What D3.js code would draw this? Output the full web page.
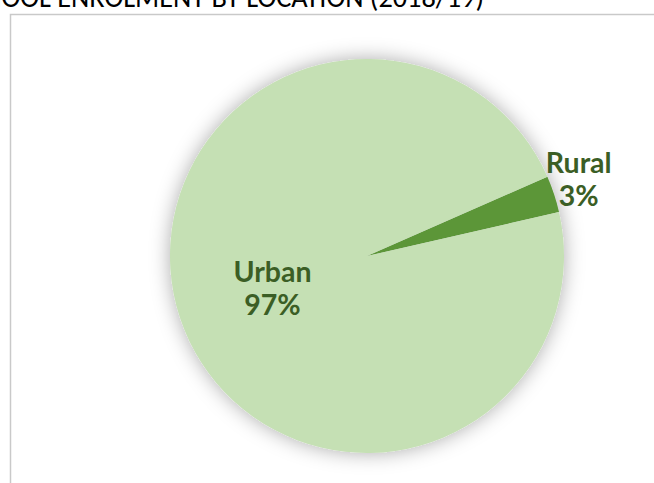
<!DOCTYPE html>
<html>
<head>
<meta charset="utf-8">
<script src="https://cdn.jsdelivr.net/npm/d3@7/dist/d3.min.js"></script>
<style>
  html, body { margin: 0; padding: 0; background: #ffffff; overflow: hidden; }
  svg { display: block; }
</style>
</head>
<body>
<svg id="chart" width="654" height="483"></svg>
<script>
// School enrolment share by location, 2018/19
const categories = ["Rural", "Urban"];
const shares = [3, 97];
const sliceColors = ["#5b9638", "#c5e0b4"];
const titleText = "SCHOOL ENROLMENT BY LOCATION (2018/19)";

const svg = d3.select("#chart");
const W = 654, H = 483;

// chart frame
svg.append("rect")
  .attr("x", 10.5).attr("y", 14.5)
  .attr("width", W + 20).attr("height", H + 20)
  .attr("fill", "#ffffff")
  .attr("stroke", "#c9c9c9")
  .attr("stroke-width", 1.5);

// title (sits above the frame, running past the left edge)
svg.append("text")
  .attr("x", 484).attr("y", 7)
  .attr("text-anchor", "end")
  .attr("font-family", "Carlito, Lato, 'Open Sans', sans-serif")
  .attr("font-size", 28.3)
  .attr("fill", "#000000")
  .text(titleText);

// soft glow around the pie
const defs = svg.append("defs");
const f = defs.append("filter").attr("id", "glow")
  .attr("x", "-25%").attr("y", "-25%").attr("width", "150%").attr("height", "150%");
f.append("feDropShadow")
  .attr("dx", 0).attr("dy", 0)
  .attr("stdDeviation", 10)
  .attr("flood-color", "#000000")
  .attr("flood-opacity", 0.33);

const cx = 367, cy = 256, r = 197;
const startDeg = 66.3;

const pie = d3.pie()
  .value(d => d)
  .sort(null)
  .startAngle(startDeg * Math.PI / 180)
  .endAngle(startDeg * Math.PI / 180 + 2 * Math.PI);

const arcs = pie(shares);
const arc = d3.arc().innerRadius(0).outerRadius(r);

const g = svg.append("g").attr("transform", `translate(${cx},${cy})`);

g.append("g").attr("filter", "url(#glow)")
  .selectAll("path")
  .data(arcs)
  .join("path")
  .attr("d", arc)
  .attr("fill", (d, i) => sliceColors[i]);

// data labels: Rural outside the slice, Urban inside
const labelPos = [
  d3.arc().innerRadius(r * 1.1).outerRadius(r * 1.1),
  d3.arc().innerRadius(r * 0.5).outerRadius(r * 0.5)
];
const labelShift = [[6, -6], [-1, 4]];

const labels = g.selectAll("text.lbl")
  .data(arcs)
  .join("text")
  .attr("class", "lbl")
  .attr("text-anchor", "middle")
  .attr("font-family", "Lato, 'Open Sans', sans-serif")
  .attr("font-weight", "bold")
  .attr("font-size", 28.5)
  .attr("fill", "#3b5e25");

labels.each(function(d, i) {
  const t = d3.select(this);
  const c = labelPos[i].centroid(d);
  const x = c[0] + labelShift[i][0];
  const y = c[1] + labelShift[i][1];
  t.append("tspan").attr("x", x).attr("y", y - 9).text(categories[i]);
  t.append("tspan").attr("x", x).attr("dy", 33.5).text(d3.format(".0f")(d.value) + "%");
});
</script>
</body>
</html>
